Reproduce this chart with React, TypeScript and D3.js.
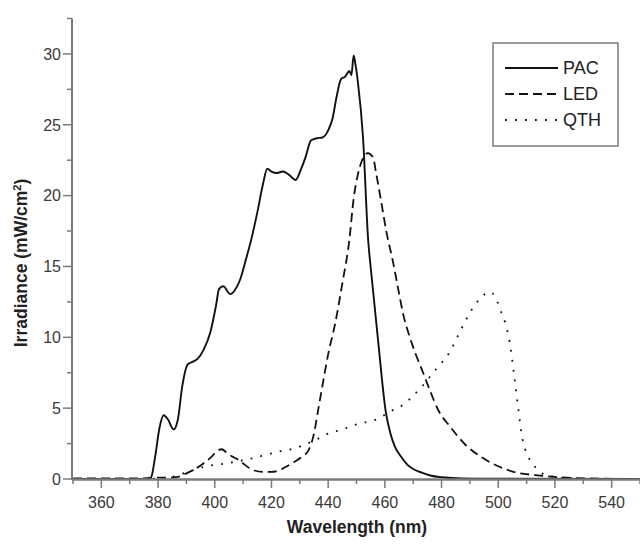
import React from "react";
import * as d3 from "d3";

const pacWl = [350, 370, 376, 377.5, 379, 380.5, 382, 383.5, 385.5, 387, 388.5, 390.5, 392.5, 394, 396, 398.5, 400.5, 401.5, 403, 405.5, 407, 409, 411, 413, 415, 417, 418.5, 420, 422, 424, 426, 428.5, 430.5, 432, 434, 436, 438, 440, 441.5, 443, 444.5, 446, 447.5, 448.2, 449, 449.6, 450.5, 452.3, 454.1, 455.1, 457.6, 460.4, 462, 463.5, 466, 468, 470.5, 473, 476, 480, 485, 495, 550];
const pacVal = [0, 0, 0, 0.1, 1.6, 3.6, 4.5, 4.2, 3.5, 4.2, 6.5, 8.1, 8.3, 8.5, 9.1, 10.4, 12.3, 13.4, 13.6, 13.05, 13.3, 14.1, 15.5, 17.0, 18.8, 20.8, 21.9, 21.7, 21.6, 21.7, 21.5, 21.1, 21.9, 22.7, 23.9, 24.05, 24.1, 24.6, 25.4, 27.0, 28.2, 28.4, 28.8, 28.5, 29.9, 29.3, 28.0, 24.1, 16.9, 14.75, 9.8, 4.65, 3.2, 2.3, 1.5, 1.0, 0.65, 0.45, 0.25, 0.12, 0.05, 0.02, 0];

const ledWl = [350, 360, 370, 375, 380, 384, 387, 390, 393, 396, 399, 401, 402.5, 404, 406, 408, 410, 412, 414, 417, 420, 422.5, 425, 428, 431, 433, 435, 436.5, 438, 440, 442.5, 445, 447.5, 449, 450.5, 452, 454, 455.8, 457, 458.6, 460.4, 463, 465, 466.5, 468.5, 471, 473.5, 476, 479, 483, 488.5, 494, 500, 507, 513, 520, 530, 550];
const ledVal = [0.05, 0.05, 0.05, 0.05, 0.1, 0.1, 0.15, 0.4, 0.7, 1.1, 1.6, 2.0, 2.1, 1.9, 1.6, 1.4, 1.1, 0.8, 0.6, 0.5, 0.5, 0.6, 0.85, 1.2, 1.6, 2.0, 3.2, 4.9, 6.6, 8.8, 11.0, 13.8, 16.9, 19.8, 21.5, 22.5, 23.0, 22.7, 21.5, 19.7, 17.6, 15.2, 13.1, 11.6, 10.2, 8.75, 7.5, 6.2, 4.8, 3.7, 2.4, 1.55, 0.9, 0.42, 0.28, 0.15, 0.05, 0];

const qthWl = [350, 375, 380, 383, 386, 389, 392, 396, 400, 404, 408, 412, 416, 420, 424, 428, 432, 436, 440, 445, 449, 453, 457, 461, 464, 467, 470, 473, 477, 480, 483, 486, 488.5, 490.5, 493, 495, 496.5, 498, 499.5, 501, 502.5, 504, 505.5, 507, 508.2, 509.5, 511, 513, 515, 518, 521, 525, 550];
const qthVal = [0, 0, 0.05, 0.1, 0.2, 0.4, 0.6, 0.85, 1.0, 1.1, 1.25, 1.4, 1.6, 1.8, 2.0, 2.15, 2.45, 2.8, 3.2, 3.5, 3.8, 4.0, 4.2, 4.65, 5.0, 5.3, 5.9, 6.5, 7.5, 8.2, 9.0, 10.2, 11.2, 11.9, 12.6, 13.0, 13.2, 13.1, 12.6, 11.8, 11.0, 9.7, 7.5, 5.1, 3.2, 2.1, 1.4, 0.85, 0.45, 0.25, 0.1, 0.03, 0];

const xMajor = [360, 380, 400, 420, 440, 460, 480, 500, 520, 540];
const xMinor = [350, 370, 390, 410, 430, 450, 470, 490, 510, 530, 550];
const yMajor = [0, 5, 10, 15, 20, 25, 30];
const yMinor = [2.5, 7.5, 12.5, 17.5, 22.5, 27.5, 32.5];

const seriesNames = ["PAC", "LED", "QTH"];
const dashes = ["none", "9,5", "1.8,8.2"];

export default function App() {
  const x = d3.scaleLinear().domain([350, 550]).range([73, 640]);
  const y = d3.scaleLinear().domain([0, 32.5]).range([479, 18.5]);
  const line = d3
    .line<[number, number]>()
    .x((d) => x(d[0]))
    .y((d) => y(d[1]))
    .curve(d3.curveMonotoneX);
  const zip = (a: number[], b: number[]) => a.map((w, i) => [w, b[i]] as [number, number]);
  const series = [zip(pacWl, pacVal), zip(ledWl, ledVal), zip(qthWl, qthVal)];
  const axisColor = "#7a7a7a";
  const textColor = "#3a3a3a";
  const font = "'Liberation Sans', Arial, sans-serif";
  const x0 = 72;
  const y0 = y(0);

  return (
    <svg
      width={640}
      height={547}
      style={{ position: "absolute", left: 0, top: 0, background: "#fff" }}
      fontFamily={font}
    >
      <rect x={0} y={0} width={640} height={547} fill="#fff" />
      {series.map((s, i) => (
        <path
          key={seriesNames[i]}
          d={line(s) || ""}
          fill="none"
          stroke="#111"
          strokeWidth={i === 0 ? 1.9 : 1.8}
          strokeDasharray={dashes[i]}
          strokeLinecap="butt"
        />
      ))}
      {/* axes */}
      <line x1={x0} x2={x0} y1={y(32.5)} y2={y0 + 1} stroke={axisColor} strokeWidth={2} />
      <line x1={x0} x2={640} y1={y0 + 0.5} y2={y0 + 0.5} stroke={axisColor} strokeWidth={2.5} />
      {yMajor.map((v) => (
        <g key={"ym" + v}>
          <line x1={x0 - 9} x2={x0} y1={y(v)} y2={y(v)} stroke={axisColor} strokeWidth={1.5} />
          <text x={x0 - 11} y={y(v)} dy="0.36em" textAnchor="end" fontSize={16} fill={textColor}>
            {v}
          </text>
        </g>
      ))}
      {yMinor.map((v) => (
        <line key={"yn" + v} x1={x0 - 5} x2={x0} y1={y(v)} y2={y(v)} stroke={axisColor} strokeWidth={1.5} />
      ))}
      {xMajor.map((v) => (
        <g key={"xm" + v}>
          <line x1={x(v)} x2={x(v)} y1={y0} y2={y0 + 9} stroke={axisColor} strokeWidth={1.5} />
          <text x={x(v)} y={y0 + 29} textAnchor="middle" fontSize={16} fill={textColor}>
            {v}
          </text>
        </g>
      ))}
      {xMinor.map((v) => (
        <line key={"xn" + v} x1={x(v)} x2={x(v)} y1={y0} y2={y0 + 5} stroke={axisColor} strokeWidth={1.5} />
      ))}
      <text x={357} y={533} textAnchor="middle" fontSize={17.5} fontWeight="bold" fill="#222">
        Wavelength (nm)
      </text>
      <text
        transform={`translate(27, 263) rotate(-90)`}
        textAnchor="middle"
        fontSize={17.5}
        fontWeight="bold"
        fill="#222"
      >
        Irradiance (mW/cm<tspan dy="-6" fontSize={11}>2</tspan>
        <tspan dy="6">)</tspan>
      </text>
      {/* legend */}
      <rect x={493} y={43} width={125} height={103} fill="#fff" stroke={axisColor} strokeWidth={1.5} />
      {seriesNames.map((n, i) => {
        const ly = 68 + i * 26;
        return (
          <g key={"lg" + n}>
            <line x1={505} x2={558} y1={ly} y2={ly} stroke="#111" strokeWidth={1.8} strokeDasharray={dashes[i]} />
            <text x={563} y={ly} dy="0.36em" fontSize={18} fill="#222">
              {n}
            </text>
          </g>
        );
      })}
    </svg>
  );
}
